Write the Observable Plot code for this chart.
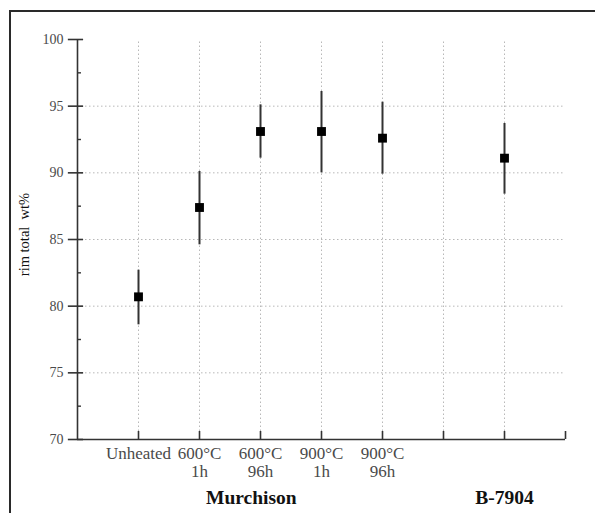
<!DOCTYPE html>
<html><head><meta charset="utf-8">
<script src="https://cdn.jsdelivr.net/npm/d3@7"></script>
<script src="https://cdn.jsdelivr.net/npm/@observablehq/plot@0.6"></script>
<style>
body{margin:0;background:#fff;overflow:hidden;}
#frame{position:absolute;left:9px;top:10px;width:700px;height:600px;border:2px solid #2a2a2a;}
#chart{position:absolute;left:0;top:0;}
</style></head><body>
<div id="frame"></div><div id="chart"></div>
<script>
// Data
const categories = ["Unheated", "600°C\n1h", "600°C\n96h", "900°C\n1h", "900°C\n96h"];
const categoryPositions = [1, 2, 3, 4, 5];
const pointPositions = [1, 2, 3, 4, 5, 7];
const means = [80.7, 87.4, 93.1, 93.1, 92.6, 91.1];
const lows  = [78.6, 84.6, 91.1, 90.0, 89.9, 88.4];
const highs = [82.7, 90.1, 95.1, 96.1, 95.3, 93.7];
const groupLabels = ["Murchison", "B-7904"];
const groupPositions = [2.85, 7];
const yTicks = [70, 75, 80, 85, 90, 95, 100];
const yMinorTicks = [72.5, 77.5, 82.5, 87.5, 92.5, 97.5];
const yGrid = [75, 80, 85, 90, 95];
const xGrid = [1, 2, 3, 4, 5, 6, 7];
const xTicks = [1, 2, 3, 4, 5, 6, 7, 8];
const yLabel = "rim total  wt%";

const points = pointPositions.map((x, i) => ({x, mean: means[i], lo: lows[i], hi: highs[i]}));
const catData = categories.map((c, i) => ({x: categoryPositions[i], label: c}));
const groupData = groupLabels.map((g, i) => ({x: groupPositions[i], label: g}));

const serif = "'Liberation Serif', 'Times New Roman', serif";
const axisColor = "#333";
const gridStyle = {stroke: "#b8b8b8", strokeWidth: 1, strokeDasharray: "1.5,2.5"};

const chart = Plot.plot({
  width: 595,
  height: 513,
  marginLeft: 77,
  marginRight: 30,
  marginTop: 39,
  marginBottom: 74,
  style: {fontFamily: serif, background: "transparent", overflow: "visible"},
  x: {domain: [0, 8], axis: null},
  y: {domain: [70, 100], axis: null},
  marks: [
    // grid
    Plot.ruleX(xGrid, {x: d => d, y1: 70, y2: 100, ...gridStyle}),
    Plot.ruleY(yGrid, {y: d => d, x1: 0, x2: 8, ...gridStyle}),
    // axis lines
    Plot.ruleX([0], {x: d => d, y1: 70, y2: 100, stroke: axisColor, strokeWidth: 1.6}),
    Plot.ruleY([70], {y: d => d, x1: 0, x2: 8, stroke: axisColor, strokeWidth: 1.6}),
    // y ticks
    Plot.ruleY(yTicks, {y: d => d, x1: -0.15, x2: 0.1, stroke: axisColor, strokeWidth: 1.6}),
    Plot.ruleY(yMinorTicks, {y: d => d, x1: 0, x2: 0.065, stroke: axisColor, strokeWidth: 1.4}),
    // x ticks
    Plot.ruleX(xTicks, {x: d => d, y1: 70, y2: 70.6, stroke: axisColor, strokeWidth: 1.6}),
    // y tick labels
    Plot.text(yTicks, {x: 0, y: d => d, text: d => String(d), dx: -14, textAnchor: "end", fontSize: 14, fill: "#4a4a4a"}),
    // category labels
    Plot.text(catData, {x: "x", y: 70, text: "label", dy: 6, lineAnchor: "top", lineHeight: 1.1, fontSize: 17, fill: "#4a4a4a"}),
    // group labels
    Plot.text(groupData, {x: "x", y: 70, text: "label", dy: 64, lineAnchor: "bottom", fontSize: 19.5, fontWeight: "bold", fill: "#111"}),
    // y label
    Plot.text([yLabel], {frameAnchor: "left", text: d => d, rotate: -90, textAnchor: "middle", dx: -53, dy: -5, fontSize: 14.5, fill: "#111"}),
    // error bars
    Plot.ruleX(points, {x: "x", y1: "lo", y2: "hi", stroke: "#333", strokeWidth: 2}),
    // points
    Plot.dot(points, {x: "x", y: "mean", symbol: "square", r: 5, fill: "#000", stroke: "none"})
  ]
});
document.getElementById("chart").appendChild(chart);
</script>
</body></html>
